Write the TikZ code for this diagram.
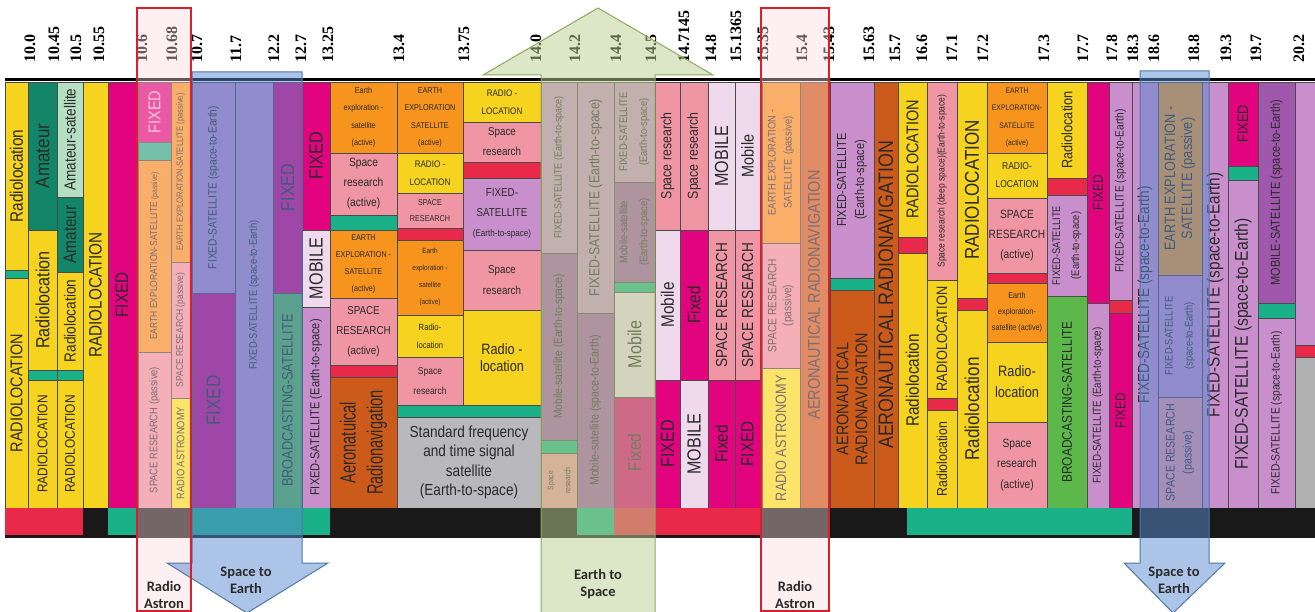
\documentclass[tikz,border=0pt]{standalone}
\usepackage{fontspec}
\setmainfont{Liberation Serif}
\setsansfont{Liberation Sans}
\newfontfamily\arrowfont{Carlito}
\usetikzlibrary{positioning}
% service colours
\definecolor{ylw}{HTML}{F6D31F}
\definecolor{amg}{HTML}{13866A}
\definecolor{amsat}{HTML}{B5DFC3}
\definecolor{grn}{HTML}{1AB188}
\definecolor{mag}{HTML}{E2047F}
\definecolor{org}{HTML}{F7941E}
\definecolor{pnk}{HTML}{EF95A3}
\definecolor{crim}{HTML}{E8294A}
\definecolor{lylw}{HTML}{FCEC1E}
\definecolor{lpur}{HTML}{C98FCD}
\definecolor{lav}{HTML}{EFD9EC}
\definecolor{brn}{HTML}{CC5A1A}
\definecolor{stdgrey}{HTML}{B9B9BD}
\definecolor{msat}{HTML}{A058AD}
\definecolor{bgrn}{HTML}{5CB84A}
\definecolor{sgrey}{HTML}{B0B0B0}
\definecolor{txt}{HTML}{2A2A2A}
% overlays
\definecolor{arblue}{HTML}{5B8BD0}
\definecolor{arline}{HTML}{4F77A8}
\definecolor{argreen}{HTML}{BBD191}
\definecolor{arolive}{HTML}{8FA860}
\definecolor{boxpink}{HTML}{FDD7DC}
\definecolor{boxred}{HTML}{D9202A}
\tikzset{
  cellbox/.style = {draw=txt!85, line width=0.5pt},
  fs/.style 2 args = {font=\sffamily\fontsize{#1}{#2}\selectfont},
  vtext/.style = {rotate=90, xscale=0.85, inner sep=0pt, align=center,
    text=txt},
  htext/.style = {xscale=0.85, inner sep=0pt, align=center, text=txt},
  freq/.style = {rotate=90, anchor=west, inner sep=0pt,
    font=\bfseries\fontsize{16}{16}\selectfont},
  arrowtxt/.style = {align=center, inner sep=0pt, text=txt,
    font=\arrowfont\bfseries\fontsize{14.5}{17}\selectfont},
  uparrow/.style = {fill=argreen, fill opacity=0.5, draw=arolive,
    line width=1pt},
  downarrow/.style = {fill=arblue, fill opacity=0.5, draw=arline,
    line width=1pt},
  astronfill/.style = {fill=boxpink, fill opacity=0.4},
  astronline/.style = {draw=boxred, line width=2.5pt}
}
% one allocation: name, x1, y1, x2, y2, fill, font, text
\newcommand{\vcell}[8]{%
  \filldraw[cellbox, fill=#6] (#2,#3) rectangle (#4,#5);
  \node[vtext, #7] (#1) at ({(#2+#4)/2},{(#3+#5)/2}) {#8};}
\newcommand{\hcell}[8]{%
  \filldraw[cellbox, fill=#6] (#2,#3) rectangle (#4,#5);
  \node[htext, #7] (#1) at ({(#2+#4)/2},{(#3+#5)/2}) {#8};}
\newcommand{\band}[5]{\filldraw[cellbox, fill=#5] (#1,#2) rectangle (#3,#4);}

\begin{document}
\begin{tikzpicture}[x=1pt, y=-1pt]
\useasboundingbox (0,0) rectangle (1315,612);
\fill[white] (0,0) rectangle (1315,612);
\clip (0,0) rectangle (1315,612);
%
% 10.0 - 10.6
\vcell{rl1}{5}{82}{28}{270}{ylw}{fs={18}{18}}{Radiolocation}
\band{5}{270}{28}{278}{grn}
\vcell{rl2}{5}{278}{28}{508}{ylw}{fs={17}{17}}{RADIOLOCATION}
\vcell{am1}{28}{82}{57}{230}{amg}{fs={20}{20}}{Amateur}
\vcell{rl3}{28}{230}{57}{370}{ylw}{fs={19}{19}}{Radiolocation}
\band{28}{370}{57}{380}{grn}
\vcell{rl4}{28}{380}{57}{508}{ylw}{fs={14}{14}}{RADIOLOCATION}
\vcell{as1}{57}{82}{83}{197}{amsat}{fs={16}{16}}{Amateur-satellite}
\vcell{am2}{57}{197}{83}{272}{amg}{fs={18}{18}}{Amateur}
\vcell{rl5}{57}{272}{83}{370}{ylw}{fs={16}{16}}{Radiolocation}
\band{57}{370}{83}{380}{grn}
\vcell{rl6}{57}{380}{83}{508}{ylw}{fs={14}{14}}{RADIOLOCATION}
\vcell{rl7}{83}{82}{108}{508}{ylw}{fs={18}{18}}{RADIOLOCATION}
\vcell{fx1}{108}{82}{136}{508}{mag}{fs={18}{18}}{FIXED}
%
% 10.6 - 10.7
\vcell{fx2}{138}{82}{171}{142}{mag}{fs={17}{17}, text=mag!25}{FIXED}
\band{138}{142}{171}{160}{grn}
\vcell{ee1}{138}{160}{171}{352}{org}{fs={10}{10}}{EARTH EXPLORATION-SATELLITE {\fontsize{8}{8}\selectfont(passive)}}
\vcell{sr1}{138}{352}{171}{508}{pnk}{fs={11}{11}}{SPACE RESEARCH (passive)}
\vcell{ee2}{171}{82}{190}{262}{org}{fs={9}{9}}{EARTH EXPLORATION-SATELLITE (passive)}
\vcell{sr2}{171}{262}{190}{398}{pnk}{fs={10}{10}}{SPACE RESEARCH (passive)}
\vcell{ra1}{171}{398}{190}{508}{lylw}{fs={11}{11}}{RADIO ASTRONOMY}
%
% 10.7 - 13.25
\vcell{fs1}{192}{82}{235}{293}{lpur}{fs={12}{12}}{FIXED-SATELLITE (space-to-Earth)}
\vcell{fx3}{192}{293}{235}{508}{mag}{fs={20}{20}}{FIXED}
\vcell{fs2}{235}{82}{273}{508}{lpur}{fs={11}{11}}{FIXED-SATELLITE (space-to-Earth)}
\vcell{fx4}{273}{82}{302}{293}{mag}{fs={19}{19}}{FIXED}
\vcell{bs1}{273}{293}{302}{508}{bgrn}{fs={15}{15}}{BROADCASTING-SATELLITE}
\vcell{fx5}{302}{82}{330}{230}{mag}{fs={19}{19}}{FIXED}
\vcell{mo1}{302}{230}{330}{307}{lav}{fs={19}{19}}{MOBILE}
\vcell{fs3}{302}{307}{330}{508}{lpur}{fs={13}{13}}{FIXED-SATELLITE (Earth-to-space)}
%
% 13.25 - 14.0
\hcell{ee3}{330}{82}{397}{153}{org}{fs={8.5}{17.5}}{Earth\\exploration -\\satellite\\(active)}
\hcell{sr3}{330}{153}{397}{215}{pnk}{fs={12}{20}}{Space\\research\\(active)}
\band{330}{215}{397}{230}{grn}
\hcell{ee4}{330}{230}{397}{298}{org}{fs={8.5}{17}}{EARTH\\EXPLORATION -\\SATELLITE\\(active)}
\hcell{sr4}{330}{298}{397}{365}{pnk}{fs={11.5}{20}}{SPACE\\RESEARCH\\(active)}
\band{330}{365}{397}{377}{crim}
\vcell{an1}{330}{377}{397}{508}{brn}{fs={22}{27}, xscale=0.78}{Aeronatuical\\Radionavigation}
\hcell{ee5}{397}{82}{463}{153}{org}{fs={8.5}{17.5}}{EARTH\\EXPLORATION\\SATELLITE\\(active)}
\hcell{rl8}{397}{153}{463}{193}{ylw}{fs={9.5}{18}}{RADIO -\\LOCATION}
\hcell{sr5}{397}{193}{463}{228}{pnk}{fs={8.5}{16}}{SPACE\\RESEARCH}
\band{397}{228}{463}{240}{crim}
\hcell{ee6}{397}{240}{463}{315}{org}{fs={7.5}{17}}{Earth\\exploration -\\satellite\\(active)}
\hcell{rl9}{397}{315}{463}{357}{ylw}{fs={9}{18}}{Radio-\\location}
\hcell{sr6}{397}{357}{463}{405}{pnk}{fs={10}{20}}{Space\\research}
\hcell{rl10}{463}{82}{541}{122}{ylw}{fs={9.5}{18}}{RADIO -\\LOCATION}
\hcell{sr7}{463}{122}{541}{162}{pnk}{fs={11.5}{20}}{Space\\research}
\band{463}{162}{541}{178}{crim}
\hcell{fs4}{463}{178}{541}{250}{lpur}{fs={11.5}{20}}{FIXED-\\SATELLITE\\{\fontsize{9.5}{20}\selectfont(Earth-to-space)}}
\hcell{sr8}{463}{250}{541}{310}{pnk}{fs={11.5}{21}}{Space\\research}
\hcell{rl11}{463}{310}{541}{405}{ylw}{fs={15}{17}}{Radio -\\location}
\band{397}{405}{541}{417}{grn}
\hcell{sf1}{397}{417}{541}{508}{stdgrey}{fs={16}{19.5}}{Standard frequency\\and time signal\\satellite\\(Earth-to-space)}
%
% 14.0 - 14.5
\vcell{fs5}{541}{82}{577}{253}{lpur}{fs={10.5}{10.5}}{FIXED-SATELLITE (Earth-to-space)}
\vcell{ms1}{541}{253}{577}{440}{msat}{fs={12}{12}}{Mobile-satellite (Earth-to-space)}
\band{541}{440}{577}{453}{grn}
\vcell{sr9}{541}{453}{577}{508}{pnk}{fs={8}{17}}{Space\\research}
\vcell{fs6}{577}{82}{614}{313}{lpur}{fs={14.5}{14.5}}{FIXED-SATELLITE (Earth-to-space)}
\vcell{ms2}{577}{313}{614}{508}{msat}{fs={12.5}{12.5}}{Mobile-satellite (space-to-Earth)}
\vcell{fs7}{614}{82}{655}{182}{lpur}{fs={11}{20}}{FIXED-SATELLITE\\(Earth-to-space)}
\vcell{ms3}{614}{182}{655}{282}{msat}{fs={11}{20}}{Mobile-satellite\\(Earth-to-space)}
\band{614}{282}{655}{292}{grn}
\vcell{mo2}{614}{292}{655}{397}{lav}{fs={19}{19}}{Mobile}
\vcell{fx6}{614}{397}{655}{508}{mag}{fs={18}{18}}{Fixed}
%
% 14.5 - 15.35
\vcell{sr10}{655}{82}{680}{230}{pnk}{fs={14.5}{14.5}}{Space research}
\vcell{mo3}{655}{230}{680}{380}{lav}{fs={18}{18}}{Mobile}
\vcell{fx7}{655}{380}{680}{508}{mag}{fs={19}{19}}{FIXED}
\vcell{sr11}{680}{82}{708}{230}{pnk}{fs={14.5}{14.5}}{Space research}
\vcell{fx8}{680}{230}{708}{380}{mag}{fs={18}{18}}{Fixed}
\vcell{mo4}{680}{380}{708}{508}{lav}{fs={19}{19}}{MOBILE}
\vcell{mo5}{708}{82}{735}{230}{lav}{fs={19}{19}}{MOBILE}
\vcell{sr12}{708}{230}{735}{380}{pnk}{fs={16}{16}}{SPACE RESEARCH}
\vcell{fx9}{708}{380}{735}{508}{mag}{fs={18}{18}}{Fixed}
\vcell{mo6}{735}{82}{760}{230}{lav}{fs={17}{17}}{Mobile}
\vcell{sr13}{735}{230}{760}{380}{pnk}{fs={16}{16}}{SPACE RESEARCH}
\vcell{fx10}{735}{380}{760}{508}{mag}{fs={18}{18}}{FIXED}
%
% 15.35 - 15.43
\vcell{ee7}{762}{82}{800}{243}{org}{fs={11}{16}}{EARTH EXPLORATION -\\SATELLITE\ \ (passive)}
\vcell{sr14}{762}{243}{800}{368}{pnk}{fs={12}{15}}{SPACE RESEARCH\\(passive)}
\vcell{ra2}{762}{368}{800}{508}{lylw}{fs={15}{15}}{RADIO ASTRONOMY}
\vcell{an2}{800}{82}{828}{508}{brn}{fs={17}{17}}{AERONAUTICAL RADIONAVIGATION}
%
% 15.43 - 17.7
\vcell{fs8}{830}{82}{874}{278}{lpur}{fs={13}{18}}{FIXED-SATELLITE\\(Earth-to-space)}
\band{830}{278}{874}{290}{grn}
\vcell{an3}{830}{290}{874}{508}{brn}{fs={17}{19}}{AERONAUTICAL\\RADIONAVIGATION}
\vcell{an4}{874}{82}{898}{508}{brn}{fs={21}{21}}{AERONAUTICAL RADIONAVIGATION}
\vcell{rl12}{898}{82}{927}{237}{ylw}{fs={17}{17}}{RADIOLOCATION}
\band{898}{237}{927}{253}{crim}
\vcell{rl13}{898}{253}{927}{508}{ylw}{fs={18}{18}}{Radiolocation}
\vcell{sr15}{927}{82}{957}{280}{pnk}{fs={10}{10}}{Space research (deep space)(Earth-to-space)}
\vcell{rl14}{927}{280}{957}{398}{ylw}{fs={15}{15}}{RADIOLOCATION}
\band{927}{398}{957}{410}{crim}
\vcell{rl15}{927}{410}{957}{508}{ylw}{fs={14.5}{14.5}}{Radiolocation}
\vcell{rl16}{957}{82}{987}{298}{ylw}{fs={20}{20}}{RADIOLOCATION}
\band{957}{298}{987}{310}{crim}
\vcell{rl17}{957}{310}{987}{508}{ylw}{fs={20}{20}}{Radiolocation}
\hcell{ee8}{987}{82}{1047}{153}{org}{fs={8}{17.5}}{EARTH\\EXPLORATION-\\SATELLITE\\(active)}
\hcell{rl18}{987}{153}{1047}{198}{ylw}{fs={10}{18}}{RADIO-\\LOCATION}
\hcell{sr16}{987}{198}{1047}{273}{pnk}{fs={12}{20}}{SPACE\\RESEARCH\\(active)}
\band{987}{273}{1047}{283}{crim}
\hcell{ee9}{987}{283}{1047}{342}{org}{fs={8.5}{16}}{Earth\\exploration-\\satellite (active)}
\hcell{rl19}{987}{342}{1047}{422}{ylw}{fs={15}{21}}{Radio-\\location}
\hcell{sr17}{987}{422}{1047}{508}{pnk}{fs={12}{20.5}}{Space\\research\\(active)}
\vcell{rl20}{1047}{82}{1087}{178}{ylw}{fs={15}{15}}{Radiolocation}
\band{1047}{178}{1087}{195}{crim}
\vcell{fs9}{1047}{195}{1087}{296}{lpur}{fs={11}{19}}{FIXED-SATELLITE\\(Earth-to-space)}
\vcell{bs2}{1047}{296}{1087}{508}{bgrn}{fs={14}{14}}{BROADCASTING-SATELLITE}
%
% 17.7 - 20.2
\vcell{fx11}{1087}{82}{1109}{303}{mag}{fs={14}{14}}{FIXED}
\vcell{fs10}{1087}{303}{1109}{508}{lpur}{fs={11.5}{11.5}}{FIXED-SATELLITE (Earth-to-space)}
\vcell{fs11}{1109}{82}{1132}{300}{lpur}{fs={12}{12}}{FIXED-SATELLITE (space-to-Earth)}
\band{1109}{300}{1132}{313}{crim}
\vcell{fx12}{1109}{313}{1132}{508}{mag}{fs={14}{14}}{FIXED}
\vcell{fs12}{1132}{82}{1158}{508}{lpur}{fs={16}{16}}{FIXED-SATELLITE (space-to-Earth)}
\vcell{ee10}{1158}{82}{1202}{275}{org}{fs={15}{17}}{EARTH EXPLORATION -\\SATELLITE (passive)}
\vcell{fs13}{1158}{275}{1202}{397}{lpur}{fs={11}{20}}{FIXED-SATELLITE\\(space-to-Earth)}
\vcell{sr18}{1158}{397}{1202}{508}{pnk}{fs={12.5}{17}}{SPACE RESEARCH\\(passive)}
\vcell{fs14}{1202}{82}{1228}{508}{lpur}{fs={18}{18}}{FIXED-SATELLITE (space-to-Earth)}
\vcell{fx13}{1228}{82}{1258}{166}{mag}{fs={15}{15}}{FIXED}
\band{1228}{166}{1258}{180}{grn}
\vcell{fs15}{1228}{180}{1258}{508}{lpur}{fs={18.5}{18.5}}{FIXED-SATELLITE (space-to-Earth)}
\vcell{ms4}{1258}{82}{1295}{303}{msat}{fs={13}{13}}{MOBILE-SATELLITE (space-to-Earth)}
\band{1258}{303}{1295}{318}{grn}
\vcell{fs16}{1258}{318}{1295}{508}{lpur}{fs={12}{12}}{FIXED-SATELLITE (space-to-Earth)}
\band{1295}{82}{1316}{345}{lpur}
\band{1295}{345}{1316}{357}{crim}
\band{1295}{357}{1316}{508}{sgrey}
%
% bottom strip and frame
\fill[black!90] (5,508) rectangle (1315,538);
\fill[crim] (5,508) rectangle (83,535);
\fill[grn] (108,508) rectangle (136,535);
\fill[grn] (192,508) rectangle (330,535);
\fill[grn] (577,508) rectangle (614,535);
\fill[crim] (614,508) rectangle (760,535);
\fill[grn] (907,508) rectangle (1132,535);
\draw[line width=3pt] (5,80) -- (1315,80);
%
% band edges in GHz
\foreach \f/\x [count=\i] in {10.0/30, 10.45/54, 10.5/76, 10.55/99,
    10.6/142, 10.68/172, 10.7/197, 11.7/236, 12.2/274, 12.7/301,
    13.25/328, 13.4/399, 13.75/464, 14.0/536, 14.2/575, 14.4/616,
    14.5/651, 14.7145/684, 14.8/711, 15.1365/736, 15.35/763, 15.4/802,
    15.43/829, 15.63/869, 15.7/895, 16.6/922, 17.1/952, 17.2/983,
    17.3/1044, 17.7/1083, 17.8/1112, 18.3/1133, 18.6/1154, 18.8/1194,
    19.3/1226, 19.7/1256, 20.2/1299}
  \node[freq] (fq\i) at (\x,63) {\f};
%
% radio astron windows and link directions
\fill[astronfill] (137,8) rectangle (191,612);
\fill[astronfill] (761,8) rectangle (829,612);
\filldraw[downarrow] (192,72) -- (302,72) -- (302,563) -- (328,563)
  -- (247,613) -- (167,563) -- (192,563) -- cycle;
\filldraw[downarrow] (1140,71) -- (1209,71) -- (1209,563) -- (1225,563)
  -- (1173,613) -- (1124,563) -- (1140,563) -- cycle;
\filldraw[uparrow] (541,614) -- (541,75) -- (483,75) -- (598,8)
  -- (713,75) -- (655,75) -- (655,614) -- cycle;
\draw[astronline] (137,8) rectangle (191,611);
\draw[astronline] (761,8) rectangle (829,611);
%
\node[arrowtxt] (se1) at (246,580) {Space to\\Earth};
\node[arrowtxt] (se2) at (1174,580) {Space to\\Earth};
\node[arrowtxt] (es1) at (598,584) {Earth to\\Space};
\node[arrowtxt] (ra1l) at (164,595) {Radio\\Astron};
\node[arrowtxt] (ra2l) at (795,595) {Radio\\Astron};
\end{tikzpicture}
\end{document}
